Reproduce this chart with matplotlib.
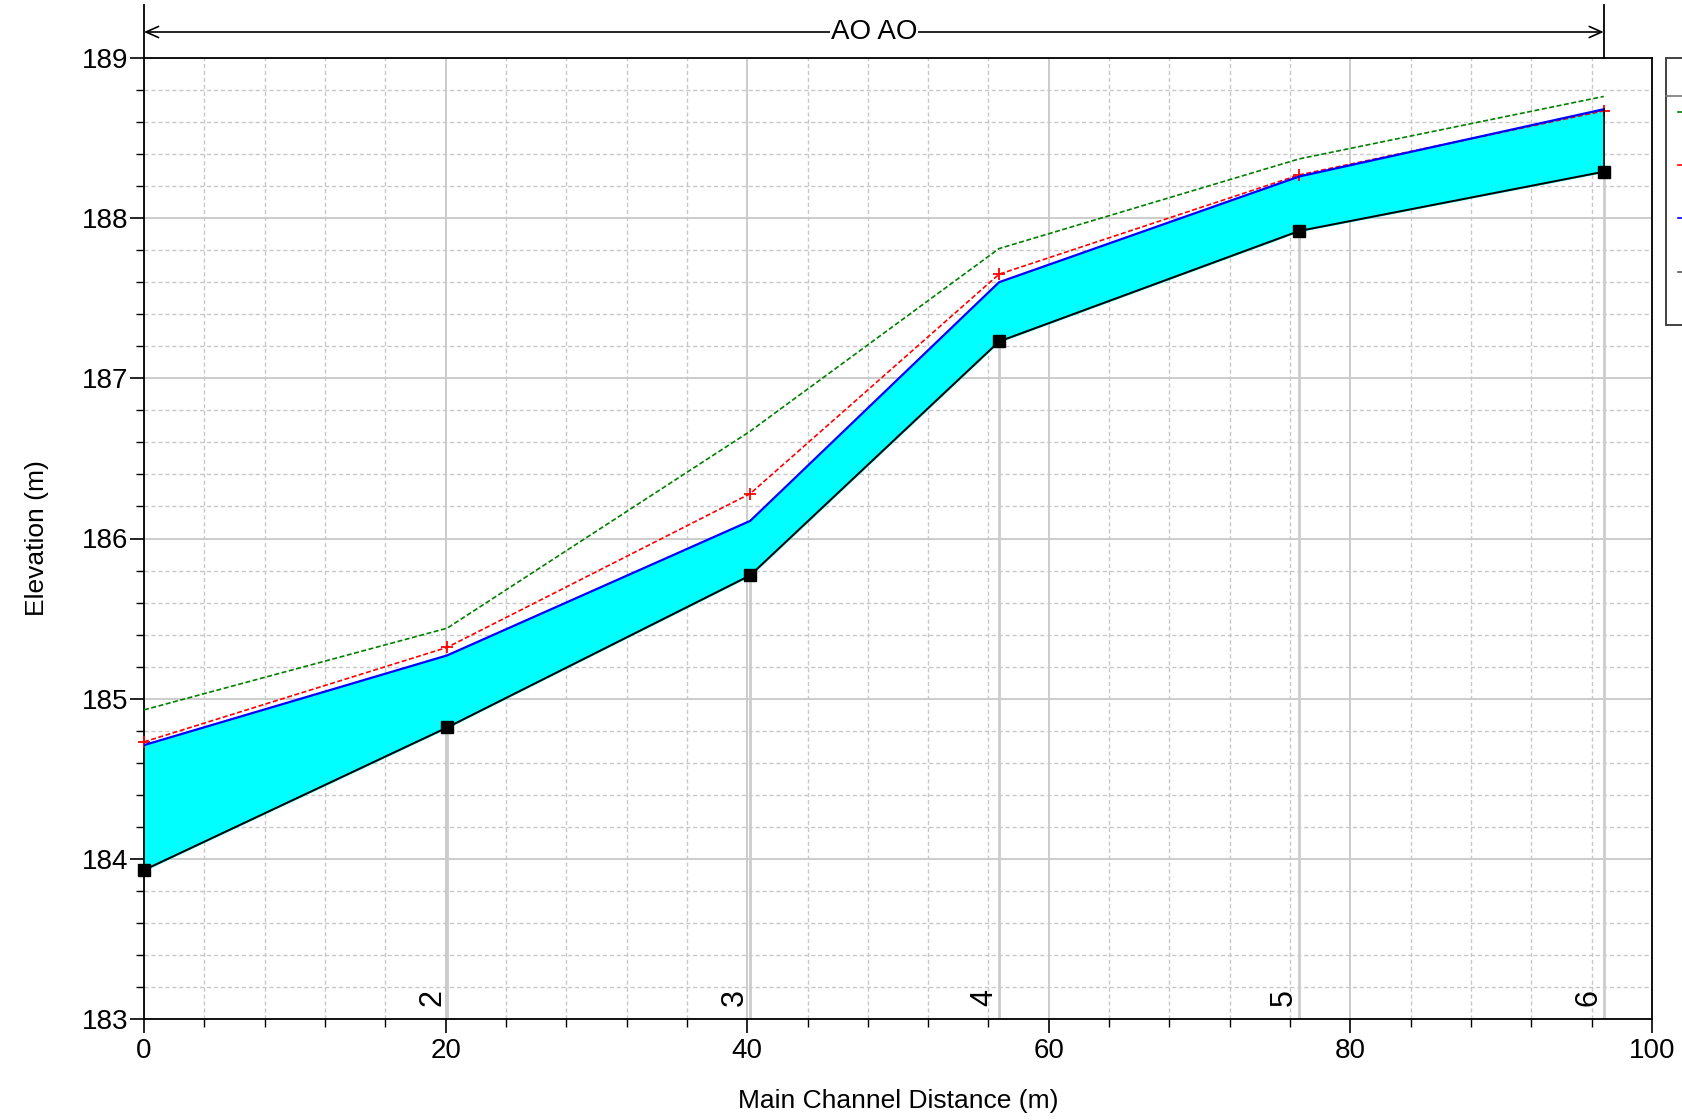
import matplotlib
matplotlib.use("Agg")
import matplotlib.pyplot as plt
import matplotlib.patches as patches
from matplotlib.lines import Line2D
from matplotlib.ticker import MultipleLocator

plt.rcParams['font.family'] = ['Liberation Sans', 'DejaVu Sans']

# Profile data.
stations = ['1', '2', '3', '4', '5', '6']
distance = [0.0, 20.1, 40.2, 56.7, 76.6, 96.8]
bed = [183.93, 184.82, 185.77, 187.23, 187.92, 188.29]
ws = [184.71, 185.27, 186.11, 187.60, 188.26, 188.68]
crit = [184.73, 185.32, 186.28, 187.65, 188.27, 188.67]
eg = [184.93, 185.44, 186.67, 187.81, 188.37, 188.76]
reach_label = 'AO AO'

W, H = 1682, 1120
fig = plt.figure(figsize=(W / 100, H / 100), dpi=100)

# Axes box in pixels: x 144..1652, y 58..1019 (top origin).
ax_l, ax_r, ax_t, ax_b = 144, 1652, 58, 1019
ax = fig.add_axes([ax_l / W, (H - ax_b) / H, (ax_r - ax_l) / W, (ax_b - ax_t) / H])

ax.set_xlim(0, 100)
ax.set_ylim(183, 189)
ax.xaxis.set_major_locator(MultipleLocator(20))
ax.xaxis.set_minor_locator(MultipleLocator(4))
ax.yaxis.set_major_locator(MultipleLocator(1))
ax.yaxis.set_minor_locator(MultipleLocator(0.2))

ax.grid(which='major', color='#c8c8c8', linestyle='-', linewidth=1.3)
ax.grid(which='minor', color='#c8c8c8', linestyle=(0, (3, 2)), linewidth=1.0)
ax.set_axisbelow(True)

ax.tick_params(which='major', direction='out', length=10, width=1.2, labelsize=20)
ax.tick_params(which='minor', direction='out', length=6, width=1.0)
ax.tick_params(axis='x', which='major', pad=4)
ax.tick_params(axis='y', which='major', pad=1)
for s in ['top', 'right', 'left', 'bottom']:
    ax.spines[s].set_linewidth(1.3)

# Station lines and labels.
for x, z, name in zip(distance[1:], bed[1:], stations[1:]):
    ax.plot([x, x], [183, z], color='#cccccc', linewidth=2.0, zorder=1.5)
    ax.annotate(name, (x, 183.08), xytext=(0, 0), textcoords='offset points',
                rotation=90, ha='right', va='bottom', fontsize=22)

ax.fill_between(distance, bed, ws, color='#00ffff', zorder=2)
ax.plot(distance, eg, color='#008000', linestyle=(0, (3, 1.5)), linewidth=1.2, zorder=3)
ax.plot(distance, crit, color='#ff0000', linestyle=(0, (3, 1.5)), linewidth=1.2,
        marker='+', markersize=9, markeredgewidth=1.3, zorder=3, clip_on=False)
ax.plot(distance, ws, color='#0000ff', linewidth=1.6, zorder=4)
ax.plot(distance, bed, color='black', linewidth=1.4, marker='s', markersize=8,
        zorder=5, clip_on=False)
ax.plot([distance[-1], distance[-1]], [bed[-1], ws[-1]], color='black', linewidth=1.2, zorder=5)

ax.set_xlabel('Main Channel Distance (m)', fontsize=19, labelpad=18)
ax.set_ylabel('Elevation (m)', fontsize=19, labelpad=24)

# Reach arrow above the plot.
x_end = ax_l + distance[-1] / 100 * (ax_r - ax_l)
arrow_y = (H - 32) / H
fig.add_artist(Line2D([ax_l / W, ax_l / W], [(H - 5) / H, (H - ax_t) / H], color='black', linewidth=1.3))
fig.add_artist(Line2D([x_end / W, x_end / W], [(H - 5) / H, (H - ax_t) / H], color='black', linewidth=1.3))
fig.add_artist(patches.FancyArrowPatch((ax_l / W, arrow_y), (x_end / W, arrow_y),
                                       transform=fig.transFigure,
                                       arrowstyle='<->,head_length=9,head_width=4',
                                       color='black', linewidth=1.2,
                                       shrinkA=0, shrinkB=0))
fig.text((ax_l + x_end) / 2 / W, arrow_y, reach_label, ha='center', va='center', fontsize=20,
         bbox=dict(facecolor='white', edgecolor='none', pad=0.5))

# Legend box, clipped at the right edge of the figure.
leg_l, leg_t, leg_b, leg_h = 1666, 58, 325, 96
fig.add_artist(patches.Rectangle((leg_l / W, (H - leg_b) / H), 100 / W, (leg_b - leg_t) / H,
                                 transform=fig.transFigure, facecolor='white',
                                 edgecolor='#333333', linewidth=1.3))
fig.add_artist(Line2D([leg_l / W, 1.0], [(H - leg_h) / H] * 2, color='#777777', linewidth=1.2))
for yy, c in zip([112, 165, 218, 272], ['#008000', '#ff0000', '#0000ff', '#555555']):
    fig.add_artist(Line2D([1678 / W, 1.0], [(H - yy) / H] * 2, color=c, linewidth=1.2))

fig.savefig('out.png', dpi=100)
